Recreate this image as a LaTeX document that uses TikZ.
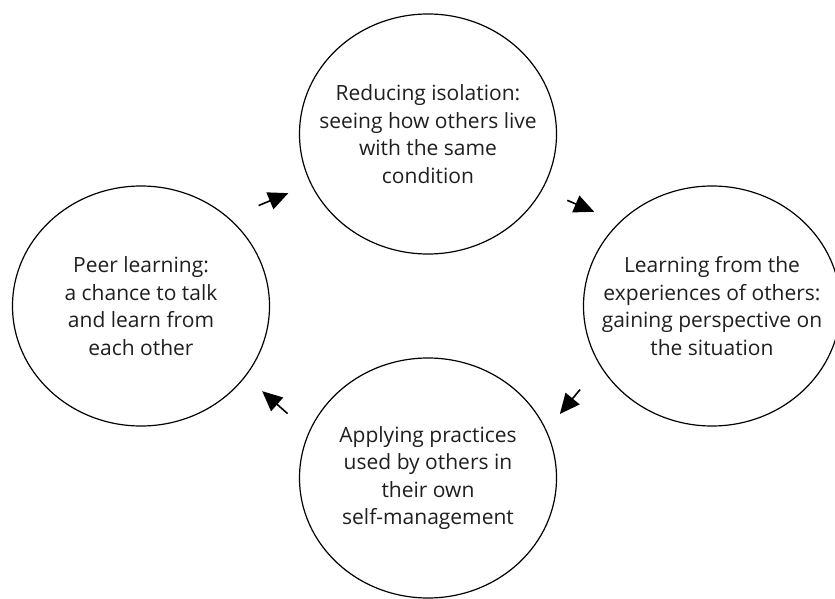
\documentclass[tikz,border=0pt]{standalone}
\usepackage{fontspec}
\setmainfont{Open Sans}
\usetikzlibrary{positioning}
\usetikzlibrary{shapes.geometric}
\usetikzlibrary{arrows.meta}

\begin{document}
\begin{tikzpicture}[x=1pt, y=-1pt,
                          bubble/.style={ellipse, draw, line width=1.2pt, minimum width=257pt, minimum height=240pt, inner sep=0pt},
                          bubbletext/.style={align=center, font=\fontsize{21}{27.5}\selectfont, text=black!88},
                          flow/.style={-{Triangle[length=20pt, width=18pt]}, line width=1.6pt},
                      ]
                      \useasboundingbox (0,0) rectangle (835,599);
                      %Nodes
                      \node[bubble]      (isolation)     at (428,134)     {};
                      \node[bubble]      (peer)      [on grid, below left=172pt and 287pt of isolation]     {};
                      \node[bubble]      (learning)  [on grid, below right=172pt and 284pt of isolation]    {};
                      \node[bubble]      (applying)  [on grid, below=344pt of isolation]    {};

                      %Texts
                      \node[bubbletext]  (isolation_txt)  at (isolation)  {Reducing isolation:\\seeing how others live\\with the same\\condition};
                      \node[bubbletext]  (peer_txt)       at (peer)       {Peer learning:\\a chance to talk\\and learn from\\each other};
                      \node[bubbletext]  (learning_txt)   at (learning)   {Learning from the\\experiences of others:\\gaining perspective on\\the situation};
                      \node[bubbletext]  (applying_txt)   at (applying)   {Applying practices\\used by others in\\their own\\self-management};

                      %Lines
                      \draw[flow, shorten <=32pt, shorten >=24pt] (peer.45) -- (isolation.203);
                      \draw[flow, shorten <=27pt, shorten >=27pt] (isolation.334) -- (learning.138);
                      \draw[flow, shorten <=31pt, shorten >=21pt] (learning.208) -- (applying.22);
                      \draw[flow, shorten <=28pt, shorten >=22pt] (applying.159) -- (peer.326);
                  \end{tikzpicture}
\end{document}
